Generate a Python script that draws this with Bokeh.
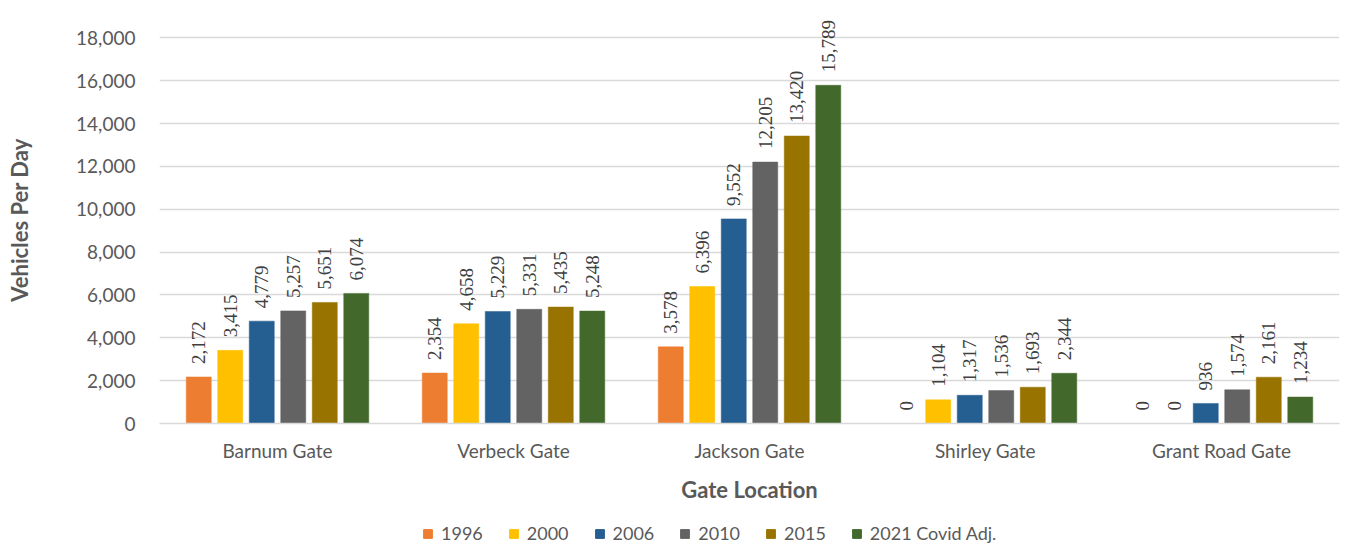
from bokeh.plotting import figure
from bokeh.layouts import column
from bokeh.models import (ColumnDataSource, FactorRange, Range1d, LabelSet,
                          Legend, LegendItem, NumeralTickFormatter, FixedTicker)
from bokeh.transform import dodge
from bokeh.embed import file_html
from bokeh.resources import INLINE
import math

gates = ["Barnum Gate", "Verbeck Gate", "Jackson Gate", "Shirley Gate", "Grant Road Gate"]
series_names = ["1996", "2000", "2006", "2010", "2015", "2021 Covid Adj."]
v1996 = [2172, 2354, 3578, 0, 0]
v2000 = [3415, 4658, 6396, 1104, 0]
v2006 = [4779, 5229, 9552, 1317, 936]
v2010 = [5257, 5331, 12205, 1536, 1574]
v2015 = [5651, 5435, 13420, 1693, 2161]
v2021 = [6074, 5248, 15789, 2344, 1234]
y_ticks = [0, 2000, 4000, 6000, 8000, 10000, 12000, 14000, 16000, 18000]

colors = ["#ED7D31", "#FFC000", "#255E91", "#636363", "#997300", "#43682B"]
series_values = [v1996, v2000, v2006, v2010, v2015, v2021]

FONT = "Lato"
TEXT = "#595959"

# a little headroom above 18,000 keeps the tallest value label inside the frame
p = figure(x_range=FactorRange(*gates, range_padding=0, factor_padding=0),
           y_range=Range1d(0, 19000),
           frame_width=1180, frame_height=407,
           min_border_left=159, min_border_right=10, min_border_top=16,
           min_border_bottom=83,
           output_backend="svg", toolbar_location=None,
           background_fill_color="white", border_fill_color="white")
p.outline_line_color = None

# legend strip underneath the chart
leg = figure(x_range=FactorRange(*gates), y_range=Range1d(0, 1),
             width=1349, height=40, min_border=0,
             x_axis_type=None, y_axis_type=None,
             output_backend="svg", toolbar_location=None,
             background_fill_color="white", border_fill_color="white")
leg.outline_line_color = None
leg.xgrid.visible = False
leg.ygrid.visible = False

pitch = 0.1335
bar_w = 0.106
items = []
for i, (name, vals, col) in enumerate(zip(series_names, series_values, colors)):
    src = ColumnDataSource(dict(gate=gates, val=vals,
                                txt=[f"{v:,}" for v in vals]))
    off = (i - 2.5) * pitch
    p.vbar(x=dodge("gate", off, range=p.x_range), top="val", width=bar_w,
           source=src, fill_color=col, line_color=col, line_width=0.5)
    lbl = LabelSet(x=dodge("gate", off, range=p.x_range), y="val", text="txt",
                   source=src, angle=math.pi / 2, y_offset=13,
                   text_align="left", text_baseline="middle",
                   text_font=FONT, text_font_size="19px", text_color="#404040")
    p.add_layout(lbl)
    # swatch renderer for the legend strip (not drawn itself)
    sw = leg.vbar(x="gate", top="val", width=bar_w, source=src,
                  fill_color=col, line_color=col, visible=False)
    items.append(LegendItem(label=name, renderers=[sw]))

# y axis
p.yaxis.ticker = FixedTicker(ticks=y_ticks)
p.yaxis.formatter = NumeralTickFormatter(format="0,0")
p.yaxis.axis_line_color = None
p.yaxis.major_tick_line_color = None
p.yaxis.minor_tick_line_color = None
p.yaxis.major_label_standoff = 18
p.yaxis.major_label_text_font = FONT
p.yaxis.major_label_text_font_size = "19px"
p.yaxis.major_label_text_color = TEXT
p.yaxis.axis_label = "Vehicles Per Day"
p.yaxis.axis_label_text_font = FONT
p.yaxis.axis_label_text_font_size = "22px"
p.yaxis.axis_label_text_font_style = "bold"
p.yaxis.axis_label_text_color = TEXT
p.yaxis.axis_label_standoff = 40

# x axis
p.xaxis.axis_line_color = "#D9D9D9"
p.xaxis.axis_line_width = 1.5
p.xaxis.major_tick_line_color = None
p.xaxis.minor_tick_line_color = None
p.xaxis.major_label_standoff = 9
p.xaxis.major_label_text_font = FONT
p.xaxis.major_label_text_font_size = "19px"
p.xaxis.major_label_text_color = TEXT
p.xaxis.axis_label = "Gate Location"
p.xaxis.axis_label_text_font = FONT
p.xaxis.axis_label_text_font_size = "22px"
p.xaxis.axis_label_text_font_style = "bold"
p.xaxis.axis_label_text_color = TEXT
p.xaxis.axis_label_standoff = 11

p.xgrid.grid_line_color = None
p.ygrid.grid_line_color = "#D9D9D9"
p.ygrid.grid_line_width = 1.5

legend = Legend(items=items, orientation="horizontal", location=(263, 2),
                label_text_font=FONT, label_text_font_size="18px",
                label_text_color=TEXT, glyph_width=11, glyph_height=11,
                label_standoff=8, spacing=25, padding=4, margin=0,
                border_line_color=None, background_fill_alpha=0)
leg.add_layout(legend, "center")

layout = column(p, leg, spacing=0)
open("out.html", "w").write(file_html(layout, INLINE))
